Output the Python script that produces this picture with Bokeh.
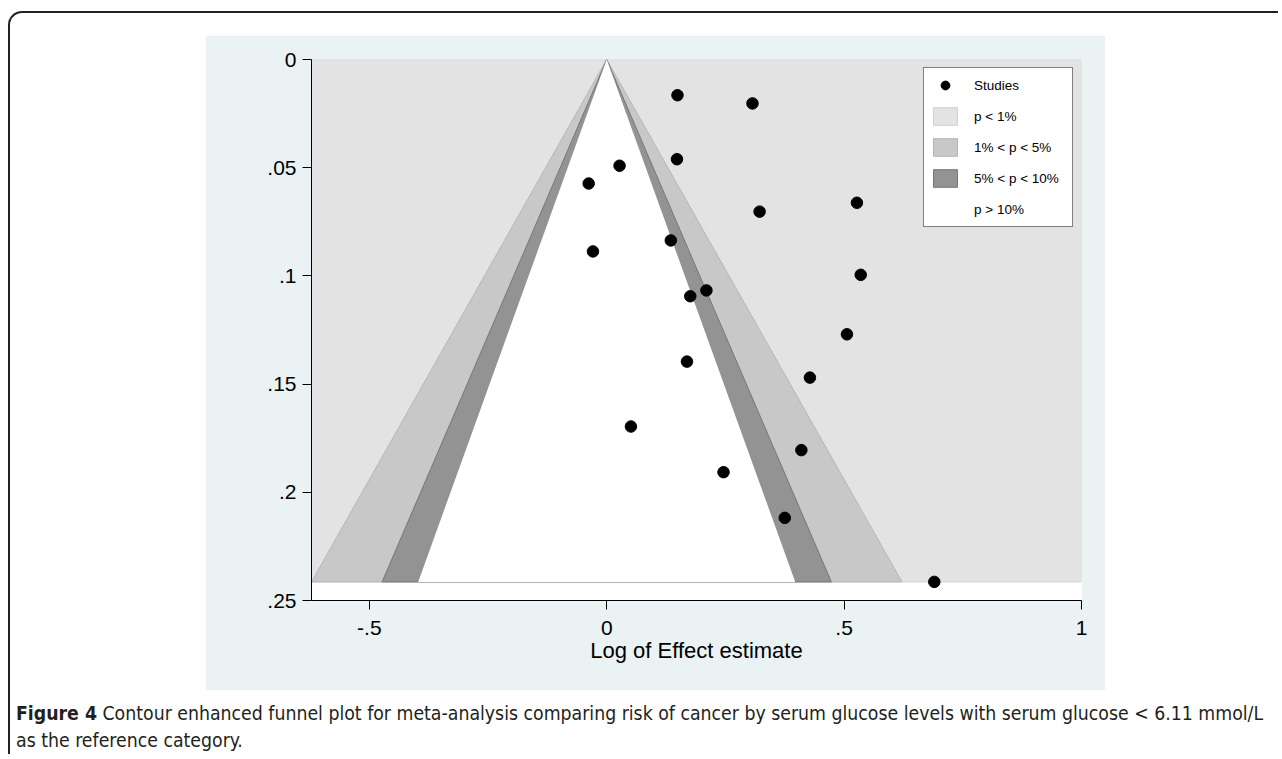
from bokeh.plotting import figure
from bokeh.models import Range1d, FixedTicker, Legend, LegendItem, Div
from bokeh.layouts import column
from bokeh.embed import file_html
from bokeh.resources import INLINE

# ---- data ----
effect = [0.149, 0.307, 0.148, 0.027, -0.038, 0.322, 0.527, 0.135, -0.029, 0.535,
          0.176, 0.210, 0.506, 0.169, 0.428, 0.051, 0.410, 0.246, 0.375, 0.690]
se = [0.0165, 0.0203, 0.0461, 0.0491, 0.0573, 0.0703, 0.0662, 0.0836, 0.0887, 0.0995,
      0.1094, 0.1067, 0.1270, 0.1396, 0.1470, 0.1696, 0.1805, 0.1907, 0.2118, 0.2414]
z_levels = [2.576, 1.960, 1.645]          # contours for p = 1%, 5%, 10%
region_labels = ["p < 1%", "1% < p < 5%", "5% < p < 10%", "p > 10%"]
x_ticks = [-0.5, 0, 0.5, 1]
x_tick_labels = ["-.5", "0", ".5", "1"]
y_ticks = [0, 0.05, 0.1, 0.15, 0.2, 0.25]
y_tick_labels = ["0", ".05", ".1", ".15", ".2", ".25"]
x_max = 1.0
y_max = 0.25
caption_bold = "Figure 4"
caption_text = ("Contour enhanced funnel plot for meta-analysis comparing risk of cancer by serum "
                "glucose levels with serum glucose &lt; 6.11 mmol/L<br>as the reference category.")

se_max = max(se)
x_min = -z_levels[0] * se_max

FONT = "Liberation Sans"

p = figure(width=900, height=655, output_backend="svg", toolbar_location=None,
           x_range=Range1d(x_min, x_max), y_range=Range1d(y_max, 0),
           min_border_left=106, min_border_right=24, min_border_top=24, min_border_bottom=90,
           background_fill_color="white", border_fill_color="#eaf2f3")
p.outline_line_color = None
p.grid.visible = False

def funnel(z):
    return [0, -z * se_max, z * se_max], [0, se_max, se_max]

r1 = p.quad(left=x_min, right=x_max, top=0, bottom=se_max,
            fill_color="#e3e3e3", line_color="#d0d0d0", line_width=1)
fx, fy = funnel(z_levels[0])
r5 = p.patch(x=fx, y=fy, fill_color="#c8c8c8", line_color="#b6b6b6", line_width=1)
fx, fy = funnel(z_levels[1])
r10 = p.patch(x=fx, y=fy, fill_color="#939393", line_color="#777777", line_width=1)
fx, fy = funnel(z_levels[2])
rw = p.patch(x=fx, y=fy, fill_color="white", line_color=None)
pts = p.scatter(effect, se, size=11.5, fill_color="black", line_color="black")

legend = Legend(items=[
    LegendItem(label="Studies", renderers=[pts]),
    LegendItem(label=region_labels[0], renderers=[r1]),
    LegendItem(label=region_labels[1], renderers=[r5]),
    LegendItem(label=region_labels[2], renderers=[r10]),
    LegendItem(label=region_labels[3], renderers=[rw]),
], location="top_right")
legend.margin = 8
legend.padding = 6
legend.spacing = 9
legend.glyph_width = 30
legend.glyph_height = 22
legend.label_height = 22
legend.label_width = 92
legend.label_standoff = 14
legend.label_text_font = FONT
legend.label_text_font_size = "13.5px"
legend.label_text_color = "black"
legend.border_line_color = "black"
legend.border_line_width = 1
legend.background_fill_color = "white"
legend.background_fill_alpha = 1.0
p.add_layout(legend)

for ax in (p.xaxis[0], p.yaxis[0]):
    ax.axis_line_color = "black"
    ax.axis_line_width = 1
    ax.major_tick_line_color = "black"
    ax.major_tick_in = 0
    ax.major_tick_out = 9
    ax.minor_tick_line_color = None
    ax.major_label_text_font = FONT
    ax.major_label_text_font_size = "21px"
    ax.major_label_text_color = "black"

p.xaxis[0].ticker = FixedTicker(ticks=x_ticks)
p.xaxis[0].major_label_overrides = dict(zip(x_ticks, x_tick_labels))
p.xaxis[0].major_label_standoff = 11
p.xaxis[0].axis_label = "Log of Effect estimate"
p.xaxis[0].axis_label_text_font = FONT
p.xaxis[0].axis_label_text_font_size = "22px"
p.xaxis[0].axis_label_text_font_style = "normal"
p.xaxis[0].axis_label_text_color = "black"
p.xaxis[0].axis_label_standoff = 0

p.yaxis[0].ticker = FixedTicker(ticks=y_ticks)
p.yaxis[0].major_label_overrides = dict(zip(y_ticks, y_tick_labels))
p.yaxis[0].major_label_standoff = 6

p.margin = (22, 0, 0, 195)

cap = Div(text=f"<b>{caption_bold}</b> {caption_text}", width=1262,
          margin=(10, 0, 0, 6),
          styles={"font-family": "'Liberation Sans Narrow', 'DejaVu Sans Condensed', sans-serif",
                  "font-size": "19.3px", "line-height": "27px", "color": "#231f20"})

lay = column(p, cap, margin=(11, 0, 0, 8),
             styles={"border-top": "2px solid #222", "border-left": "2px solid #222",
                     "border-top-left-radius": "14px"})

open("out.html", "w").write(file_html(lay, INLINE))
